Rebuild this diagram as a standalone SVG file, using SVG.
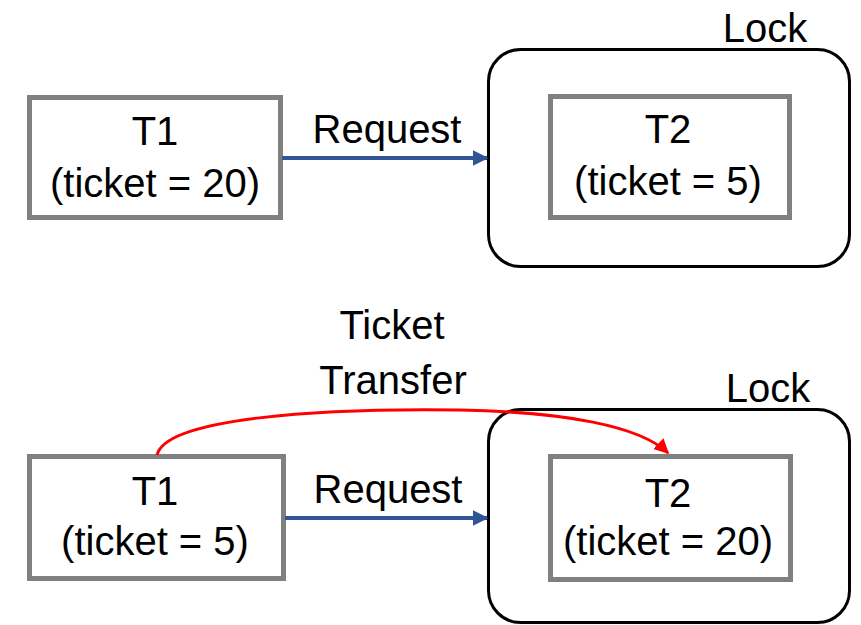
<svg xmlns="http://www.w3.org/2000/svg" width="861" height="625" viewBox="0 0 861 625">
  <defs>
    <marker id="arrowBlue" viewBox="0 0 10 10" refX="9" refY="5" markerWidth="4" markerHeight="4" orient="auto" markerUnits="strokeWidth">
      <path d="M0,0 L10,5 L0,10 z" fill="#2F5597"/>
    </marker>
    <marker id="arrowRed" viewBox="0 0 10 10" refX="9" refY="5" markerWidth="5" markerHeight="5" orient="auto" markerUnits="strokeWidth">
      <path d="M0,0 L10,5 L0,10 z" fill="#FF0000"/>
    </marker>
    <style>
      .txn { fill: #ffffff; stroke: #808080; stroke-width: 5; }
      .lock { fill: none; stroke: #000000; stroke-width: 3; }
      .lbl { font-family: "Liberation Sans", Arial, sans-serif; font-size: 40px; fill: #000000; }
      .mid { text-anchor: middle; }
      .req { stroke: #2F5597; stroke-width: 4; fill: none; }
      .xfer { stroke: #FF0000; stroke-width: 3; fill: none; }
    </style>
  </defs>

  <!-- Top scenario -->
  <g id="lock-top">
    <rect class="lock" x="488.5" y="49.5" width="361" height="217" rx="32" ry="32"/>
    <text class="lbl" x="765" y="42" text-anchor="middle">Lock</text>
  </g>
  <g id="t1-top">
    <rect class="txn" x="29.5" y="97.5" width="251" height="120"/>
    <text class="lbl mid" x="155" y="145">T1</text>
    <text class="lbl mid" x="155" y="197">(ticket = 20)</text>
  </g>
  <g id="t2-top">
    <rect class="txn" x="550.5" y="96.5" width="239" height="121"/>
    <text class="lbl mid" x="668" y="143">T2</text>
    <text class="lbl mid" x="668" y="195">(ticket = 5)</text>
  </g>

  <!-- Bottom scenario -->
  <g id="lock-bottom">
    <rect class="lock" x="488.5" y="409.5" width="361" height="213" rx="32" ry="32"/>
    <text class="lbl" x="768" y="402" text-anchor="middle">Lock</text>
  </g>
  <g id="t1-bottom">
    <rect class="txn" x="29.5" y="456.5" width="254" height="122"/>
    <text class="lbl mid" x="155" y="505">T1</text>
    <text class="lbl mid" x="155" y="555">(ticket = 5)</text>
  </g>
  <g id="t2-bottom">
    <rect class="txn" x="550.5" y="456.5" width="240" height="123"/>
    <text class="lbl mid" x="668" y="507">T2</text>
    <text class="lbl mid" x="668" y="555">(ticket = 20)</text>
  </g>

  <!-- Connectors -->
  <g id="connectors">
    <line class="req" x1="282" y1="158" x2="487" y2="158" marker-end="url(#arrowBlue)"/>
    <text class="lbl mid" x="387" y="143">Request</text>

    <line class="req" x1="285" y1="518" x2="487" y2="518" marker-end="url(#arrowBlue)"/>
    <text class="lbl mid" x="388" y="503">Request</text>

    <path class="xfer" d="M157,455 C166,418 320,408 460,410 C565,412 640,426 668,453" marker-end="url(#arrowRed)"/>
    <text class="lbl mid" x="392" y="339">Ticket</text>
    <text class="lbl mid" x="393" y="394">Transfer</text>
  </g>
</svg>
